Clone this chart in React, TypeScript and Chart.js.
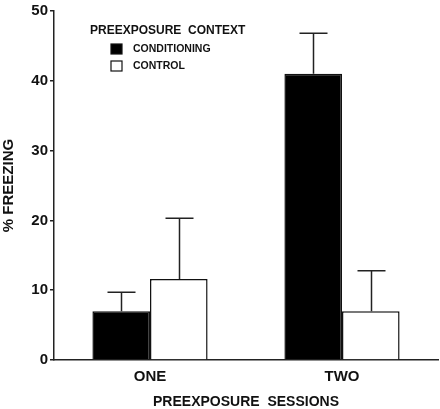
import React, { useEffect, useRef } from "react";
import { Chart, registerables } from "chart.js";

Chart.register(...registerables);

const categories = ["ONE", "TWO"];
const seriesNames = ["CONDITIONING", "CONTROL"];
const conditioningValues = [7.0, 41.0];
const conditioningErrors = [2.7, 5.8];
const controlValues = [11.6, 7.0];
const controlErrors = [8.7, 5.8];
const yTicks = [0, 10, 20, 30, 40, 50];
const legendTitle = "PREEXPOSURE  CONTEXT";
const xTitle = "PREEXPOSURE  SESSIONS";
const yTitle = "% FREEZING";

const FONT = '"Liberation Sans", Arial, Helvetica, sans-serif';
const INK = "#111";

export default function App() {
  const ref = useRef<HTMLCanvasElement | null>(null);

  useEffect(() => {
    const canvas = ref.current;
    if (!canvas) return;
    const errors = [conditioningErrors, controlErrors];

    const errorBars = {
      id: "errorBars",
      afterDatasetsDraw(chart: any) {
        const ctx = chart.ctx;
        const yScale = chart.scales.y;
        ctx.save();
        ctx.strokeStyle = "#222";
        ctx.lineWidth = 1.5;
        chart.data.datasets.forEach((ds: any, i: number) => {
          const meta = chart.getDatasetMeta(i);
          meta.data.forEach((bar: any, j: number) => {
            const v = ds.data[j] as number;
            const top = yScale.getPixelForValue(v + errors[i][j]);
            const x = Math.round(bar.x) + 0.5;
            ctx.beginPath();
            ctx.moveTo(x, bar.y);
            ctx.lineTo(x, top);
            ctx.moveTo(x - 14, top);
            ctx.lineTo(x + 14, top);
            ctx.stroke();
          });
        });
        ctx.restore();
      },
    };

    const customLegend = {
      id: "customLegend",
      afterDraw(chart: any) {
        const ctx = chart.ctx;
        const a = chart.chartArea;
        ctx.save();
        ctx.fillStyle = INK;
        ctx.textBaseline = "middle";
        ctx.textAlign = "left";
        ctx.font = `bold 12px ${FONT}`;
        ctx.fillText(legendTitle, a.left + 36, a.top + 20);
        ctx.font = `bold 10.5px ${FONT}`;
        const fills = ["#000", "#fff"];
        seriesNames.forEach((name, i) => {
          const cy = a.top + 38 + i * 17;
          ctx.fillStyle = fills[i];
          ctx.fillRect(a.left + 57, cy - 5, 11, 10);
          ctx.strokeStyle = "#111";
          ctx.lineWidth = 1.2;
          ctx.strokeRect(a.left + 57, cy - 5, 11, 10);
          ctx.fillStyle = INK;
          ctx.fillText(name, a.left + 79, cy);
        });
        ctx.restore();
      },
    };

    const chart = new Chart(canvas, {
      type: "bar",
      data: {
        labels: categories,
        datasets: [
          {
            label: seriesNames[0],
            data: conditioningValues,
            backgroundColor: "#000",
            borderColor: "#111",
            borderWidth: 1.5,
            categoryPercentage: 0.6,
            barPercentage: 1.0,
          },
          {
            label: seriesNames[1],
            data: controlValues,
            backgroundColor: "#fff",
            borderColor: "#111",
            borderWidth: 1.5,
            categoryPercentage: 0.6,
            barPercentage: 1.0,
          },
        ],
      },
      options: {
        responsive: false,
        animation: false,
        devicePixelRatio: 1,
        layout: { padding: { top: 9, right: 2, left: 0, bottom: 0 } },
        plugins: {
          legend: { display: false },
          tooltip: { enabled: false },
        },
        scales: {
          x: {
            grid: { display: true, drawOnChartArea: false, drawTicks: false },
            border: { display: true, color: "#222", width: 1.5 },
            ticks: {
              color: INK,
              font: { family: FONT, size: 15, weight: "bold" },
              padding: 8,
            },
            title: {
              display: true,
              text: xTitle,
              color: INK,
              font: { family: FONT, size: 14, weight: "bold", lineHeight: 1 },
              padding: { top: 0, bottom: 0 },
            },
            afterFit(s: any) {
              s.height = 49;
            },
          },
          y: {
            min: 0,
            max: 50,
            afterBuildTicks(s: any) {
              s.ticks = yTicks.map((v) => ({ value: v }));
            },
            grid: {
              display: true,
              drawOnChartArea: false,
              drawTicks: true,
              tickLength: 4,
              color: "#222",
              lineWidth: 1.5,
            },
            border: { display: true, color: "#222", width: 1.5 },
            ticks: {
              color: INK,
              font: { family: FONT, size: 15, weight: "bold" },
              padding: 2,
            },
            title: {
              display: true,
              text: yTitle,
              color: INK,
              font: { family: FONT, size: 15, weight: "bold", lineHeight: 1.2 },
              padding: { top: 0, bottom: 0 },
            },
            afterFit(s: any) {
              s.width = 54;
            },
          },
        },
      },
      plugins: [errorBars, customLegend],
    } as any);

    return () => chart.destroy();
  }, []);

  return (
    <div style={{ position: "fixed", left: 0, top: 0, width: 440, height: 409, background: "#fff" }}>
      <canvas ref={ref} width={440} height={409} style={{ display: "block" }} />
    </div>
  );
}
